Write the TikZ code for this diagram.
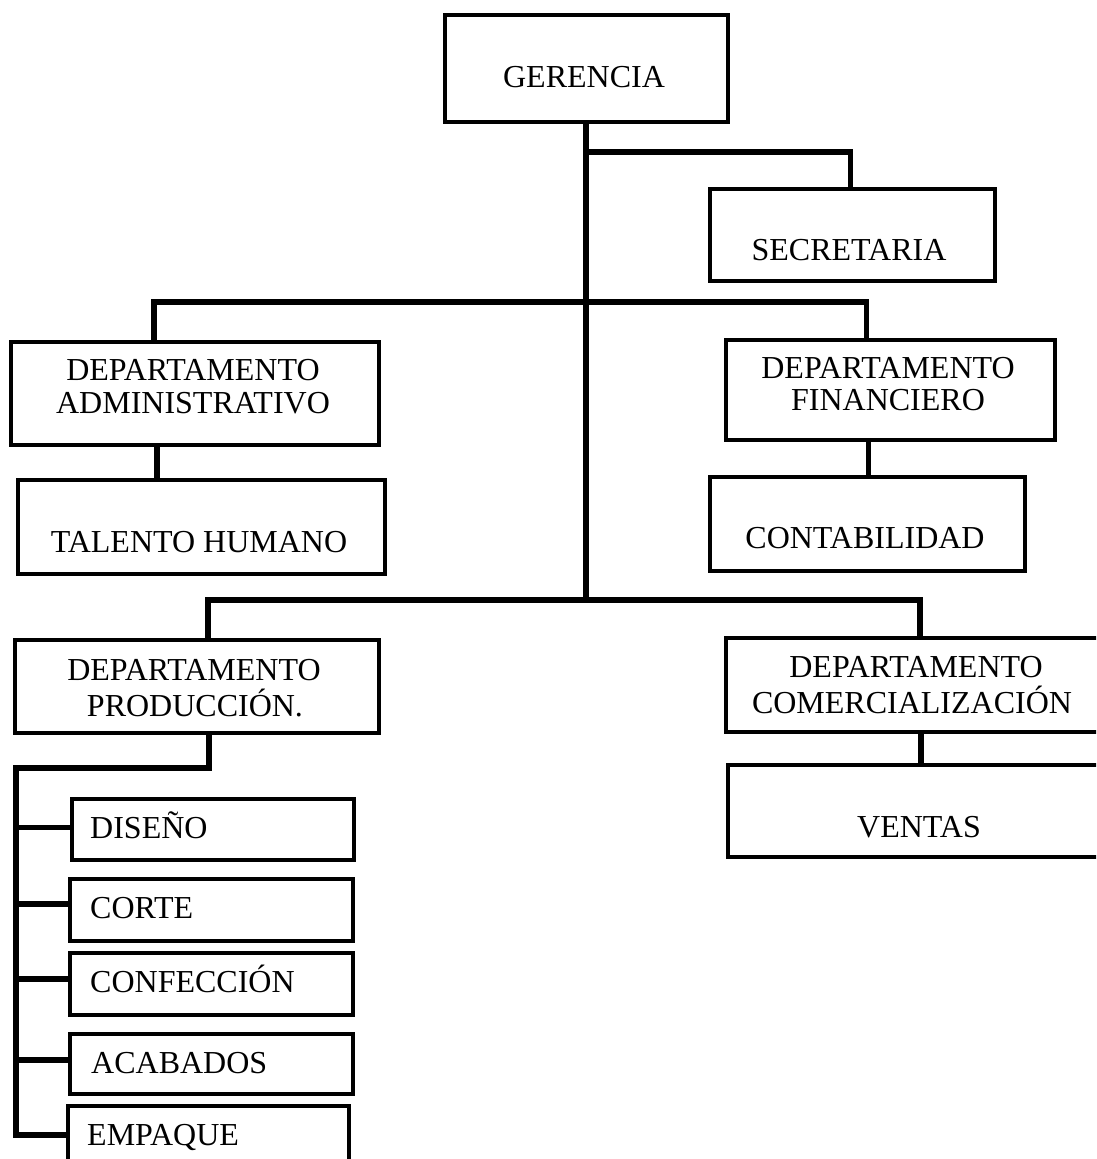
\documentclass[tikz,border=0pt]{standalone}
\usepackage{fontspec}
\setmainfont{Liberation Serif}
\begin{document}
\begin{tikzpicture}[x=1pt,y=-1pt,
  box/.style={draw=black, line width=4.2pt, fill=white, inner sep=0pt, anchor=north west},
  lbl/.style={inner sep=0pt, anchor=base, font=\fontsize{32}{36}\selectfont},
  lbll/.style={inner sep=0pt, anchor=base west, font=\fontsize{32}{36}\selectfont},
  conn/.style={draw=black, line width=5.6pt, line join=miter}]
\path[use as bounding box] (0,0) rectangle (1096,1159);
\clip (0,0) rectangle (1096,1159);

\coordinate (j1) at (584,152);
\coordinate (j2) at (584,302);
\coordinate (j3) at (584,600);
\coordinate (bus) at (16,768);

% boxes
\node[box, minimum width=283pt, minimum height=107pt] (ger) at (442.5,13) {};
\node[box, minimum width=285pt, minimum height=92pt] (sec) at (708,187) {};
\node[box, minimum width=368pt, minimum height=103pt] (adm) at (9,340) {};
\node[box, minimum width=367pt, minimum height=94pt] (tal) at (16,478) {};
\node[box, minimum width=329pt, minimum height=100pt] (fin) at (724,338) {};
\node[box, minimum width=315pt, minimum height=94pt] (con) at (708,475) {};
\node[box, minimum width=364pt, minimum height=93pt] (pro) at (13,638) {};
\node[box, minimum width=386pt, minimum height=94pt] (com) at (724,636) {};
\node[box, minimum width=384pt, minimum height=92pt] (ven) at (726,763) {};
\node[box, minimum width=282pt, minimum height=61pt] (dis) at (70,797) {};
\node[box, minimum width=283pt, minimum height=62pt] (cor) at (68,877) {};
\node[box, minimum width=283pt, minimum height=62pt] (cnf) at (68,951) {};
\node[box, minimum width=283pt, minimum height=60pt] (aca) at (68,1032) {};
\node[box, minimum width=281pt, minimum height=76pt] (emp) at (66,1104) {};

% connectors
\draw[conn] (ger.south) -- (ger.south |- j3);
\draw[conn] (j1) -| ([xshift=-2pt]sec.north);
\draw[conn] ([xshift=-41pt]adm.north) |- (j2) -| ([xshift=-24pt]fin.north);
\draw[conn] ([xshift=-38pt]adm.south) coordinate (a1) -- (a1 |- tal.north);
\draw[conn] ([xshift=-22pt]fin.south) coordinate (f1) -- (f1 |- con.north);
\draw[conn] ([xshift=11pt]pro.north) |- (j3) -| ([xshift=1pt]com.north);
\draw[conn] ([xshift=2pt]com.south) coordinate (c1) -- (c1 |- ven.north);
\draw[conn] ([xshift=12pt]pro.south) |- (bus) |- ([yshift=9pt]emp.west);
\draw[conn] ([yshift=2pt]dis.west) coordinate (s1) -- (s1 -| bus);
\draw[conn] ([yshift=6pt]cor.west) coordinate (s2) -- (s2 -| bus);
\draw[conn] ([yshift=5pt]cnf.west) coordinate (s3) -- (s3 -| bus);
\draw[conn] ([yshift=4pt]aca.west) coordinate (s4) -- (s4 -| bus);

% labels
\node[lbl] (gerT) at (584,87) {GERENCIA};
\node[lbl] (secT) at (849,260) {SECRETARIA};
\node[lbl] (admT1) at (193,380) {DEPARTAMENTO};
\node[lbl] (admT2) at (193,413) {ADMINISTRATIVO};
\node[lbl] (talT) at (199,552) {TALENTO HUMANO};
\node[lbl] (finT1) at (888,378) {DEPARTAMENTO};
\node[lbl] (finT2) at (888,410) {FINANCIERO};
\node[lbl] (conT) at (865,548) {CONTABILIDAD};
\node[lbl] (proT1) at (194,680) {DEPARTAMENTO};
\node[lbl] (proT2) at (195,716) {PRODUCCIÓN.};
\node[lbl] (comT1) at (916,677) {DEPARTAMENTO};
\node[lbl] (comT2) at (912,713) {COMERCIALIZACIÓN};
\node[lbl] (venT) at (919,837) {VENTAS};
\node[lbll] (disT) at (90,838) {DISEÑO};
\node[lbll] (corT) at (90,918) {CORTE};
\node[lbll] (cnfT) at (90,992) {CONFECCIÓN};
\node[lbll] (acaT) at (91,1073) {ACABADOS};
\node[lbll] (empT) at (87,1145) {EMPAQUE};
\end{tikzpicture}
\end{document}
